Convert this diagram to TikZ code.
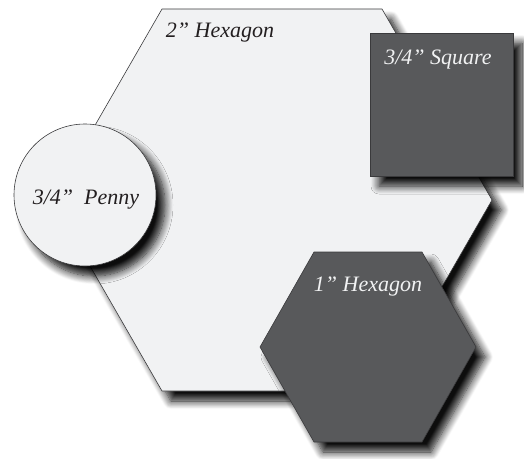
\documentclass[tikz,border=0pt]{standalone}
\usepackage{fontspec}
\setmainfont{Liberation Serif}
\usetikzlibrary{shadows.blur}
\definecolor{paper}{HTML}{F1F2F3}
\definecolor{slate}{HTML}{58595B}
\definecolor{rim}{HTML}{3A3A3C}
\definecolor{ink}{HTML}{231F20}
\tikzset{
  tile/.style = {draw = rim, line width = 0.6pt,
    blur shadow = {shadow xshift = 9pt, shadow yshift = -10pt,
      shadow blur radius = 8pt, shadow blur steps = 10, shadow opacity = 95}},
  light/.style = {tile, fill = paper},
  dark/.style = {tile, fill = slate},
  tag/.style = {font = \fontsize{22}{25}\selectfont\itshape, inner sep = 0pt}
}
\begin{document}
\begin{tikzpicture}[x = 1pt, y = -1pt]
\useasboundingbox (0,0) rectangle (524,458);
% big hexagon
\filldraw[light] (52,200) -- (162,9) -- (382,9) -- (492,200) -- (382,391) -- (162,391) -- cycle;
\node[tag, text = ink] (bighex) at (220,33) {2'' Hexagon};
% penny
\filldraw[light] (85,195) circle (71);
\node[tag, text = ink] (penny) at (86,200) {3/4''\ \ Penny};
% square
\filldraw[dark] (370,33) rectangle (513,176);
\node[tag, text = paper] (square) at (438,60) {3/4'' Square};
% small hexagon
\filldraw[dark] (260,347) -- (314,252) -- (422,252) -- (476,347) -- (422,442) -- (314,442) -- cycle;
\node[tag, text = paper] (smallhex) at (368,287) {1'' Hexagon};
\end{tikzpicture}
\end{document}
